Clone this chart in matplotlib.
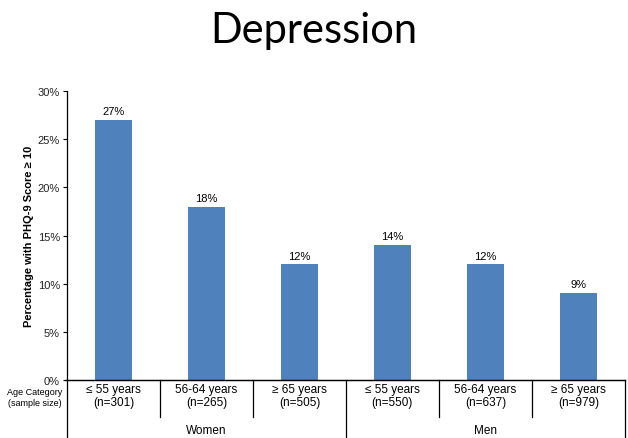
import matplotlib.pyplot as plt
import matplotlib.transforms as mtransforms

plt.rcParams['font.family'] = ['Liberation Sans', 'DejaVu Sans']

age_labels = ['\u2264 55 years', '56-64 years', '\u2265 65 years', '\u2264 55 years', '56-64 years', '\u2265 65 years']
sample_sizes = ['(n=301)', '(n=265)', '(n=505)', '(n=550)', '(n=637)', '(n=979)']
groups = ['Women', 'Men']
values = [27, 18, 12, 14, 12, 9]
yticks = [0, 5, 10, 15, 20, 25, 30]

fig = plt.figure(figsize=(6.28, 4.39), dpi=100)
ax = fig.add_axes([0.1067, 0.1321, 0.8883, 0.6583])

x = list(range(len(values)))
ax.bar(x, values, width=0.4, color='#4F81BD')
for xi, v in zip(x, values):
    ax.text(xi, v + 0.4, '%d%%' % v, ha='center', va='bottom', fontsize=8)

ax.set_xlim(-0.5, len(values) - 0.5)
ax.set_ylim(0, 30)
ax.set_yticks(yticks)
ax.set_yticklabels(['%d%%' % t for t in yticks], fontsize=8, color='#222222')
ax.tick_params(axis='y', length=3, width=0.8, pad=2)
ax.set_xticks([])
for s in ['top', 'right']:
    ax.spines[s].set_visible(False)
ax.spines['left'].set_linewidth(0.9)
ax.spines['bottom'].set_linewidth(0.9)
ax.set_ylabel('Percentage with PHQ-9 Score \u2265 10', fontsize=8, fontweight='bold', labelpad=3)

trans = mtransforms.blended_transform_factory(ax.transData, ax.transAxes)
# category separators
for i in range(len(values) + 1):
    b = -0.128
    if i in (0, 3, 6):
        b = -0.21
    ax.plot([i - 0.5, i - 0.5], [0, b], transform=trans, color='black', lw=0.9, clip_on=False)
ax.plot([-0.5 - 0.02, 5.5], [0, 0], transform=trans, color='black', lw=0.9, clip_on=False)

for xi, a, n in zip(x, age_labels, sample_sizes):
    ax.text(xi, -0.055, a + '\n' + n, transform=trans, ha='center', va='center',
            fontsize=8.5, linespacing=1.1)
for gi, g in enumerate(groups):
    ax.text(gi * 3 + 1, -0.173, g, transform=trans, ha='center', va='center', fontsize=8.5)

fig.text(35 / 628, 1 - 398 / 439, 'Age Category\n(sample size)', ha='center', va='center',
         fontsize=6.5, linespacing=1.3)

fig.text(0.5, 1 - 43 / 439, 'Depression', ha='center', va='baseline', fontsize=30,
         family=['Lato', 'DejaVu Sans'])

fig.savefig('out.png', dpi=100)
